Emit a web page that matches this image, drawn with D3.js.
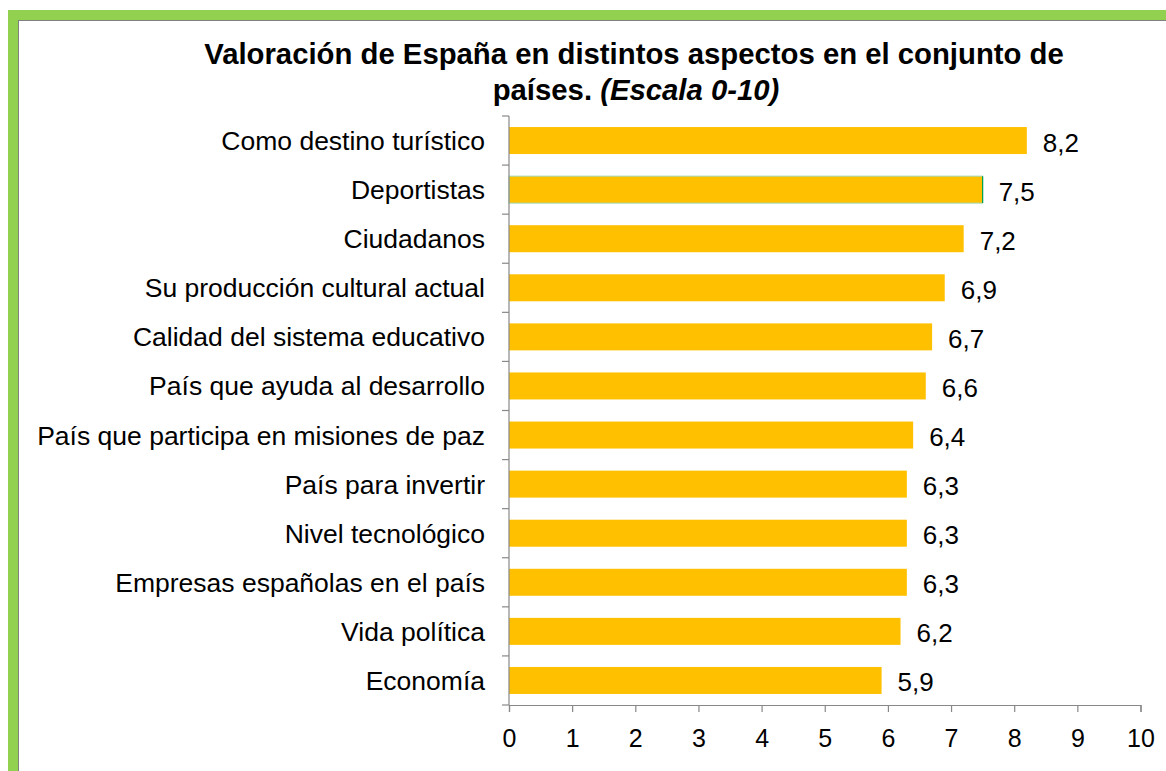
<!DOCTYPE html>
<html><head><meta charset="utf-8">
<script src="https://cdn.jsdelivr.net/npm/d3@7"></script>
<style>body{margin:0;background:#fff;}svg{display:block;font-family:"Liberation Sans",Arial,sans-serif;}</style>
</head><body>
<script>
const categories = ["Como destino turístico","Deportistas","Ciudadanos","Su producción cultural actual","Calidad del sistema educativo","País que ayuda al desarrollo","País que participa en misiones de paz","País para invertir","Nivel tecnológico","Empresas españolas en el país","Vida política","Economía"];
const values = [8.2,7.5,7.2,6.9,6.7,6.6,6.4,6.3,6.3,6.3,6.2,5.9];
const xTicks = [0,1,2,3,4,5,6,7,8,9,10];
const titleLine1 = "Valoración de España en distintos aspectos en el conjunto de";
const titleLine2a = "países. ";
const titleLine2b = "(Escala 0-10)";

const W = 1166, H = 771;
const svg = d3.select("body").append("svg").attr("width", W).attr("height", H);

// green frame
svg.append("rect").attr("x", 8).attr("y", 10).attr("width", W).attr("height", 10).attr("fill", "#92D050");
svg.append("rect").attr("x", 8).attr("y", 10).attr("width", 10).attr("height", H).attr("fill", "#92D050");
svg.append("line").attr("x1", 18).attr("x2", W).attr("y1", 20.5).attr("y2", 20.5).attr("stroke", "#808080").attr("stroke-width", 1);
svg.append("line").attr("x1", 18.5).attr("x2", 18.5).attr("y1", 20).attr("y2", H).attr("stroke", "#808080").attr("stroke-width", 1);

// title
const t = svg.append("text").attr("text-anchor", "middle").attr("font-weight", "bold").attr("font-size", 29.3).attr("fill", "#000");
t.append("tspan").attr("x", 634).attr("y", 64).text(titleLine1);
const t2 = t.append("tspan").attr("x", 636).attr("y", 100);
t2.text(titleLine2a);
t.append("tspan").attr("font-style", "italic").text(titleLine2b);

const x = d3.scaleLinear().domain([0, 10]).range([509, 1140.5]);
const y = d3.scaleBand().domain(categories).range([116, 705]).paddingInner(0.45).paddingOuter(0.225);

// bars
svg.append("g").selectAll("rect").data(values).join("rect")
  .attr("x", x(0)).attr("y", (d, i) => y(categories[i]))
  .attr("width", d => x(d) - x(0)).attr("height", y.bandwidth())
  .attr("fill", "#FFC000")
  .attr("stroke", (d, i) => i === 1 ? "#9FD9B4" : "none").attr("stroke-width", 1);
// dark edge for the Deportistas bar
svg.append("line").attr("x1", x(values[1])).attr("x2", x(values[1]))
  .attr("y1", y(categories[1])).attr("y2", y(categories[1]) + y.bandwidth())
  .attr("stroke", "#00A050").attr("stroke-width", 1.2);

// value labels
svg.append("g").selectAll("text").data(values).join("text")
  .attr("x", d => x(d) + 16).attr("y", (d, i) => y(categories[i]) + y.bandwidth() / 2 + 11)
  .attr("font-size", 26).attr("fill", "#000")
  .text(d => d.toFixed(1).replace(".", ","));

// category labels
svg.append("g").selectAll("text").data(categories).join("text")
  .attr("x", 485).attr("y", d => y(d) + y.bandwidth() / 2 + 9.5)
  .attr("text-anchor", "end").attr("font-size", 26.5).attr("fill", "#000")
  .text(d => d);

// y axis
const yEdges = d3.range(categories.length + 1).map(i => 116 + i * (705 - 116) / categories.length);
svg.append("line").attr("x1", x(0)).attr("x2", x(0)).attr("y1", 116).attr("y2", 705).attr("stroke", "#888").attr("stroke-width", 1.2);
svg.append("g").selectAll("line").data(yEdges).join("line")
  .attr("x1", x(0) - 7).attr("x2", x(0)).attr("y1", d => d).attr("y2", d => d)
  .attr("stroke", "#888").attr("stroke-width", 1.2);

// x axis
const xAxis = svg.append("g").attr("transform", "translate(0,705)")
  .call(d3.axisBottom(x).tickValues(xTicks).tickSize(7).tickPadding(10).tickFormat(d3.format("d")));
xAxis.select(".domain").attr("stroke", "#888").attr("stroke-width", 1.2);
xAxis.selectAll(".tick line").attr("stroke", "#888").attr("stroke-width", 1.2);
xAxis.selectAll(".tick text").attr("font-size", 25).attr("fill", "#000").attr("font-family", "Liberation Sans, Arial, sans-serif")
  .attr("dy", null).attr("y", 42);
</script>
</body></html>
